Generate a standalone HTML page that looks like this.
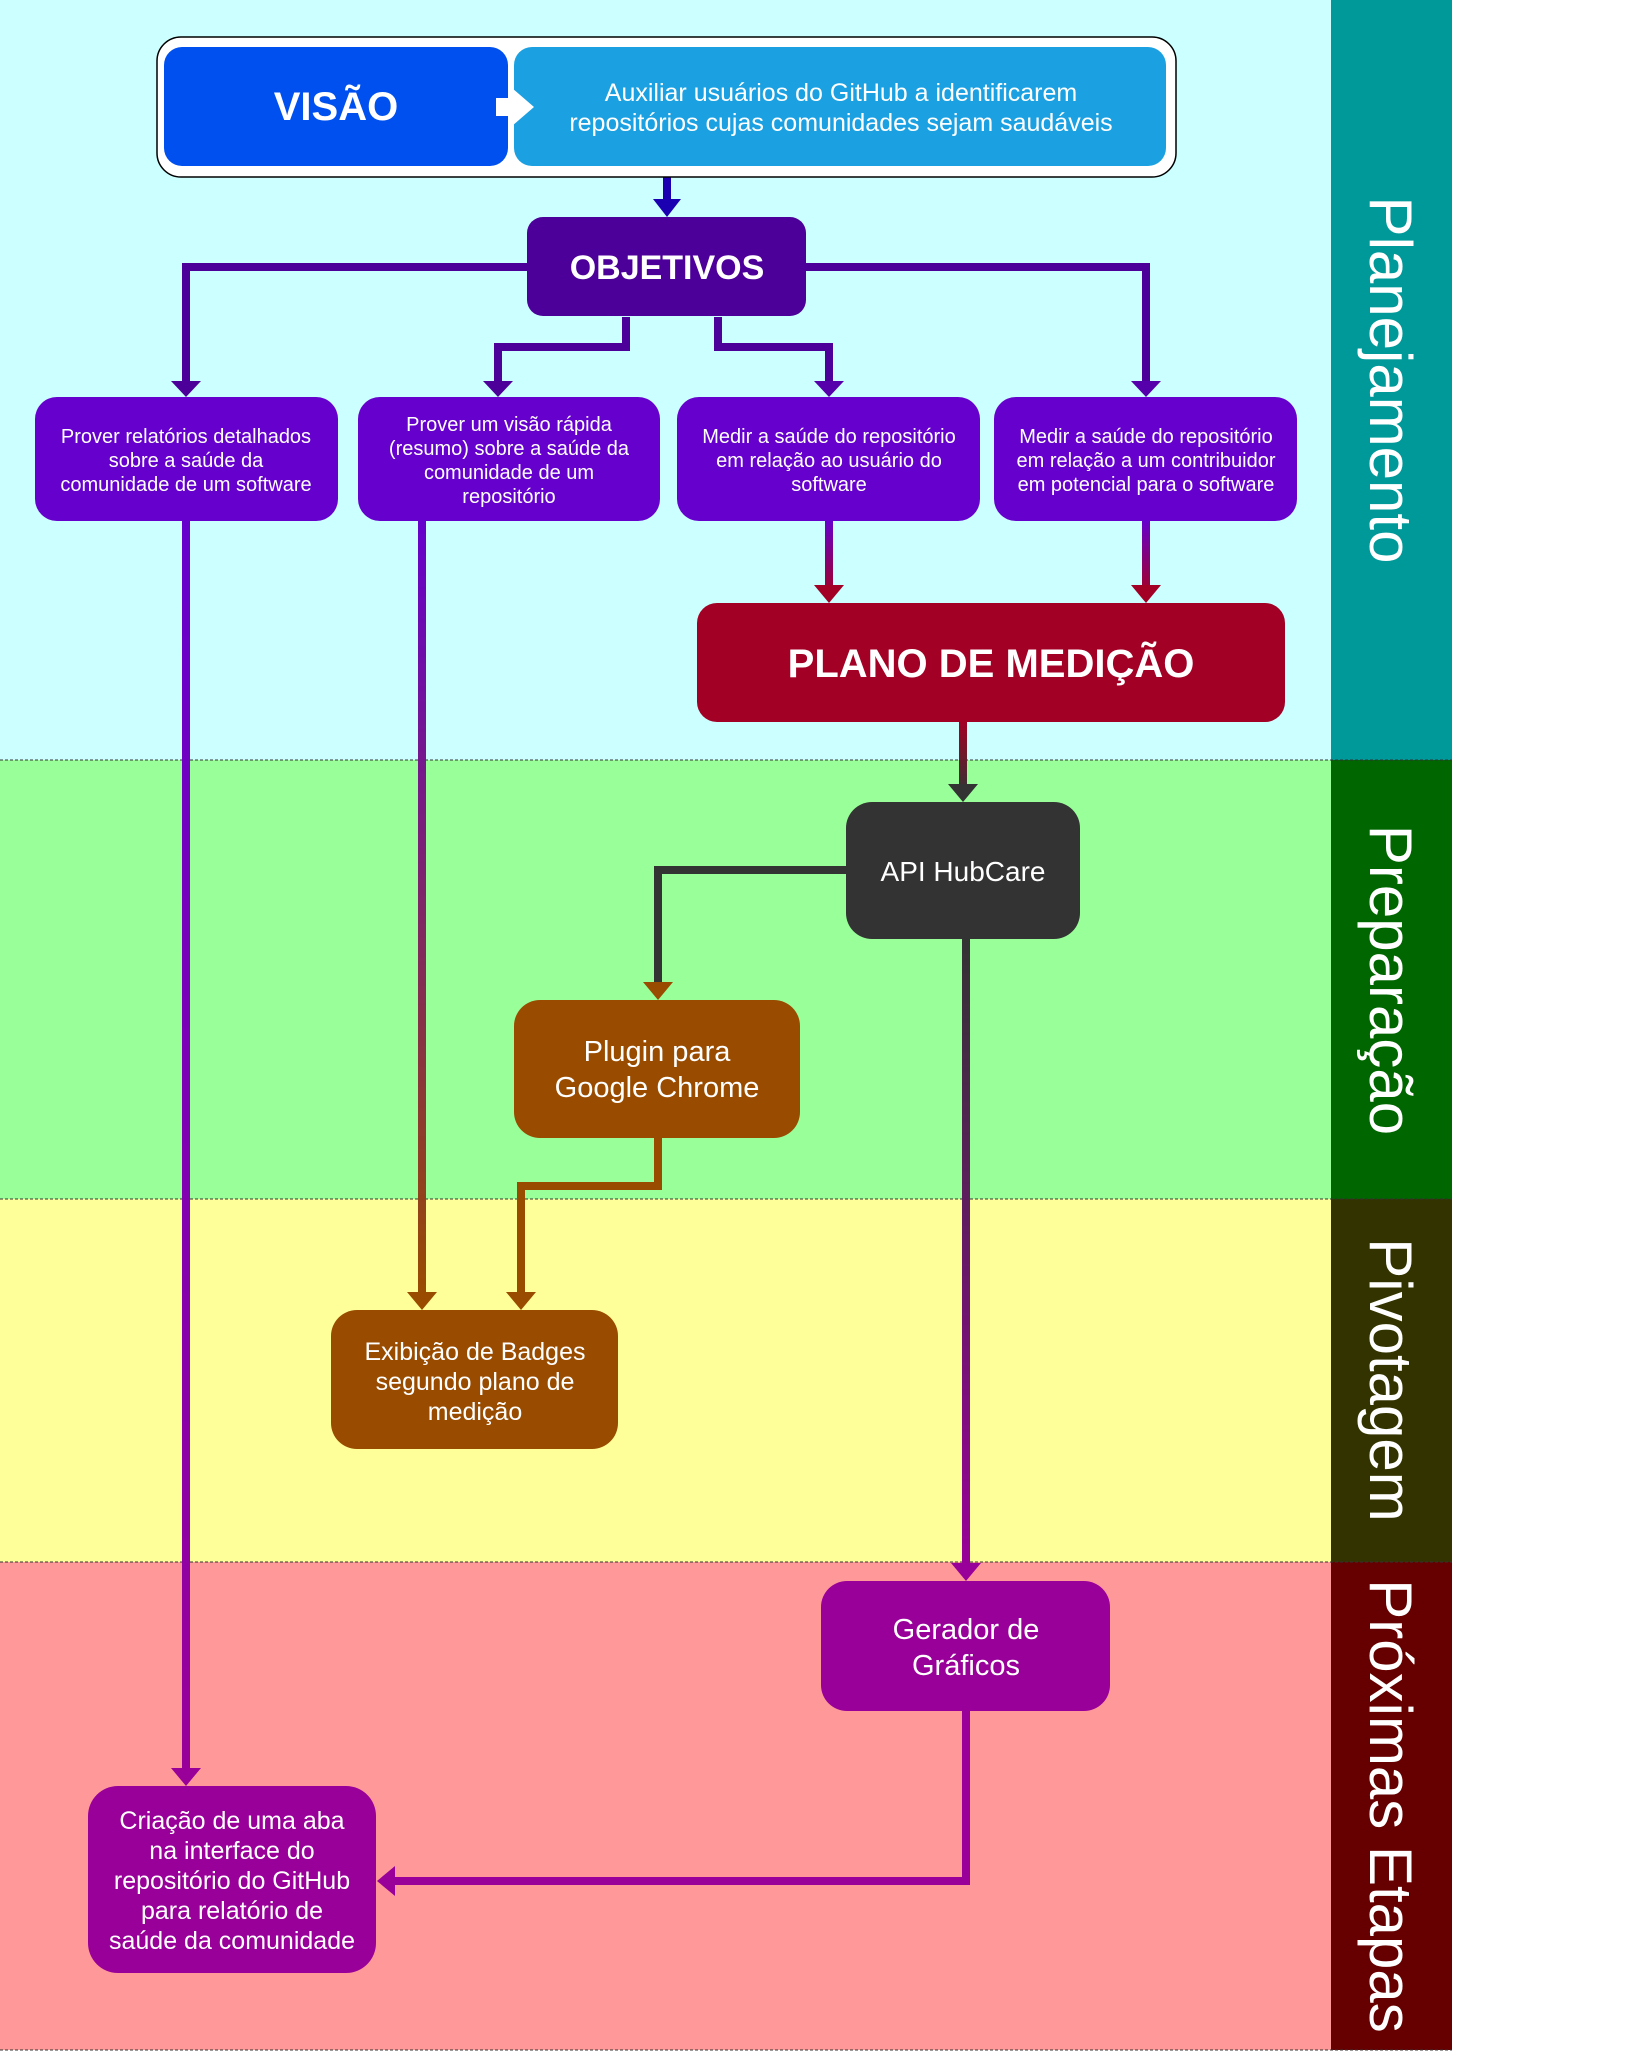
<!DOCTYPE html>
<html><head><meta charset="utf-8"><style>
html,body{margin:0;padding:0;background:#fff;}
svg{display:block;font-family:"Liberation Sans",sans-serif;}
</style></head><body>
<svg width="1641" height="2056" viewBox="0 0 1641 2056" xmlns="http://www.w3.org/2000/svg">
<defs>
<linearGradient id="g1" x1="0" y1="0" x2="0" y2="1"><stop offset="0" stop-color="#6600cc"/><stop offset="1" stop-color="#990099"/></linearGradient>
<linearGradient id="g2" x1="0" y1="0" x2="0" y2="1"><stop offset="0" stop-color="#6600cc"/><stop offset="1" stop-color="#994c00"/></linearGradient>
<linearGradient id="g3" x1="0" y1="0" x2="0" y2="1"><stop offset="0" stop-color="#333333"/><stop offset="1" stop-color="#990099"/></linearGradient>
<linearGradient id="g4" x1="0" y1="0" x2="0" y2="1"><stop offset="0" stop-color="#6600cc"/><stop offset="1" stop-color="#a20025"/></linearGradient>
<linearGradient id="g5" x1="0" y1="0" x2="0" y2="1"><stop offset="0" stop-color="#a20025"/><stop offset="1" stop-color="#333333"/></linearGradient>
</defs>
<!-- bands -->
<rect x="0" y="0" width="1331" height="760" fill="#ccffff"/>
<rect x="0" y="760" width="1331" height="439" fill="#99ff99"/>
<rect x="0" y="1199" width="1331" height="363" fill="#ffff99"/>
<rect x="0" y="1562" width="1331" height="488" fill="#ff9999"/>
<rect x="1331" y="0" width="121" height="760" fill="#009999"/>
<rect x="1331" y="760" width="121" height="439" fill="#006600"/>
<rect x="1331" y="1199" width="121" height="363" fill="#333300"/>
<rect x="1331" y="1562" width="121" height="488" fill="#660000"/>
<g stroke="#333" stroke-width="1" stroke-dasharray="3,2">
<line x1="0" y1="760" x2="1452" y2="760"/><line x1="0" y1="1199" x2="1452" y2="1199"/>
<line x1="0" y1="1562" x2="1452" y2="1562"/><line x1="0" y1="2050" x2="1452" y2="2050"/>
</g>
<g fill="#fff" font-size="60">
<text transform="translate(1370,380) rotate(90)" text-anchor="middle">Planejamento</text>
<text transform="translate(1370,980) rotate(90)" text-anchor="middle">Preparação</text>
<text transform="translate(1370,1380) rotate(90)" text-anchor="middle">Pivotagem</text>
<text transform="translate(1370,1806) rotate(90)" text-anchor="middle">Próximas Etapas</text>
</g>
<!-- connectors -->
<g fill="none" stroke-width="8">
<line x1="667" y1="177" x2="667" y2="205" stroke="#1a00b0"/>
<polyline points="527,267 186,267 186,385" stroke="#4c0099"/>
<polyline points="806,267 1146,267 1146,385" stroke="#4c0099"/>
<polyline points="626,317 626,347 498,347 498,385" stroke="#4c0099"/>
<polyline points="718,317 718,347 829,347 829,385" stroke="#4c0099"/>
<polyline points="846,870 658,870 658,988" stroke="#333333"/>
<polyline points="658,1138 658,1186 521,1186 521,1298" stroke="#994c00"/>
<polyline points="966,1711 966,1881 390,1881" stroke="#990099"/>
</g>
<rect x="825" y="521" width="8" height="72" fill="url(#g4)"/>
<rect x="1142" y="521" width="8" height="72" fill="url(#g4)"/>
<rect x="959" y="722" width="8" height="70" fill="url(#g5)"/>
<rect x="182" y="521" width="8" height="1255" fill="url(#g1)"/>
<rect x="418" y="521" width="8" height="778" fill="url(#g2)"/>
<rect x="962" y="939" width="8" height="632" fill="url(#g3)"/>
<g>
<polygon points="653,199 681,199 667,217" fill="#1a00b0"/>
<polygon points="171,381 201,381 186,397" fill="#4c0099"/>
<polygon points="483,381 513,381 498,397" fill="#4c0099"/>
<polygon points="814,381 844,381 829,397" fill="#5500aa"/>
<polygon points="1131,381 1161,381 1146,397" fill="#5500aa"/>
<polygon points="814,585 844,585 829,603" fill="#a20025"/>
<polygon points="1131,585 1161,585 1146,603" fill="#a20025"/>
<polygon points="948,784 978,784 963,802" fill="#333"/>
<polygon points="171,1768 201,1768 186,1786" fill="#990099"/>
<polygon points="407,1292 437,1292 422,1310" fill="#994c00"/>
<polygon points="506,1292 536,1292 521,1310" fill="#994c00"/>
<polygon points="643,982 673,982 658,1000" fill="#994c00"/>
<polygon points="951,1563 981,1563 966,1581" fill="#990099"/>
<polygon points="395,1866 395,1896 377,1881" fill="#990099"/>
</g>
<!-- boxes -->
<rect x="157" y="37" width="1019" height="140" rx="24" fill="#fff" stroke="#000" stroke-width="1.5"/>
<rect x="164" y="47" width="344" height="119" rx="18" fill="#0050ef"/>
<rect x="514" y="47" width="652" height="119" rx="18" fill="#1ba1e2"/>
<polygon points="496,98 512,98 512,88 534,107 512,126 512,116 496,116" fill="#fff"/>
<text x="336" y="120" fill="#fff" font-size="40" font-weight="bold" text-anchor="middle">VISÃO</text>
<text fill="#fff" font-size="25" text-anchor="middle"><tspan x="841" y="101">Auxiliar usuários do GitHub a identificarem</tspan><tspan x="841" y="131">repositórios cujas comunidades sejam saudáveis</tspan></text>
<rect x="527" y="217" width="279" height="99" rx="16" fill="#4c0099"/>
<text x="667" y="279" fill="#fff" font-size="34" font-weight="bold" text-anchor="middle">OBJETIVOS</text>
<g fill="#6600cc">
<rect x="35" y="397" width="303" height="124" rx="22"/>
<rect x="358" y="397" width="302" height="124" rx="22"/>
<rect x="677" y="397" width="303" height="124" rx="22"/>
<rect x="994" y="397" width="303" height="124" rx="22"/>
</g>
<g fill="#fff" font-size="20" text-anchor="middle">
<text><tspan x="186" y="443">Prover relatórios detalhados</tspan><tspan x="186" y="467">sobre a saúde da</tspan><tspan x="186" y="491">comunidade de um software</tspan></text>
<text><tspan x="509" y="431">Prover um visão rápida</tspan><tspan x="509" y="455">(resumo) sobre a saúde da</tspan><tspan x="509" y="479">comunidade de um</tspan><tspan x="509" y="503">repositório</tspan></text>
<text><tspan x="829" y="443">Medir a saúde do repositório</tspan><tspan x="829" y="467">em relação ao usuário do</tspan><tspan x="829" y="491">software</tspan></text>
<text><tspan x="1146" y="443">Medir a saúde do repositório</tspan><tspan x="1146" y="467">em relação a um contribuidor</tspan><tspan x="1146" y="491">em potencial para o software</tspan></text>
</g>
<rect x="697" y="603" width="588" height="119" rx="20" fill="#a20025"/>
<text x="991" y="677" fill="#fff" font-size="40" font-weight="bold" text-anchor="middle">PLANO DE MEDIÇÃO</text>
<rect x="846" y="802" width="234" height="137" rx="26" fill="#333333"/>
<text x="963" y="881" fill="#fff" font-size="28" text-anchor="middle">API HubCare</text>
<rect x="514" y="1000" width="286" height="138" rx="26" fill="#994c00"/>
<text fill="#fff" font-size="29" text-anchor="middle"><tspan x="657" y="1061">Plugin para</tspan><tspan x="657" y="1097">Google Chrome</tspan></text>
<rect x="331" y="1310" width="287" height="139" rx="26" fill="#994c00"/>
<text fill="#fff" font-size="25" text-anchor="middle"><tspan x="475" y="1360">Exibição de Badges</tspan><tspan x="475" y="1390">segundo plano de</tspan><tspan x="475" y="1420">medição</tspan></text>
<rect x="821" y="1581" width="289" height="130" rx="26" fill="#990099"/>
<text fill="#fff" font-size="29" text-anchor="middle"><tspan x="966" y="1639">Gerador de</tspan><tspan x="966" y="1675">Gráficos</tspan></text>
<rect x="88" y="1786" width="288" height="187" rx="30" fill="#990099"/>
<text fill="#fff" font-size="25" text-anchor="middle"><tspan x="232" y="1829">Criação de uma aba</tspan><tspan x="232" y="1859">na interface do</tspan><tspan x="232" y="1889">repositório do GitHub</tspan><tspan x="232" y="1919">para relatório de</tspan><tspan x="232" y="1949">saúde da comunidade</tspan></text>
</svg>
</body></html>
